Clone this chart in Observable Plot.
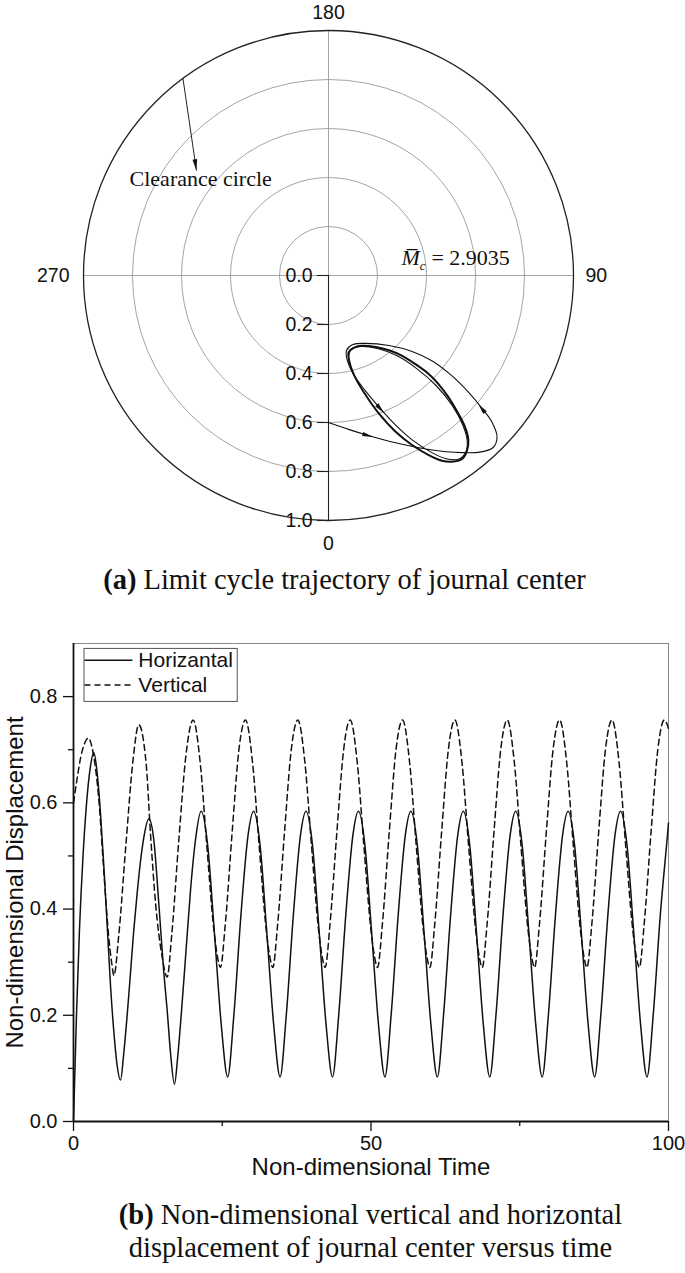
<!DOCTYPE html>
<html>
<head>
<meta charset="utf-8">
<script src="https://cdn.jsdelivr.net/npm/d3@7"></script>
<script src="https://cdn.jsdelivr.net/npm/@observablehq/plot@0.6"></script>
<style>
  body { margin: 0; background: #fff; }
  #wrap { position: relative; width: 685px; height: 1273px; overflow: hidden; background: #fff; }
  .cap { position: absolute; width: 685px; text-align: center; font-family: 'Liberation Serif', 'Times New Roman', serif; font-size: 28.5px; line-height: 33px; color: #111; white-space: nowrap; }
</style>
</head>
<body>
<div id="wrap">
  <div id="polar" style="position:absolute;left:0;top:0"></div>
  <div class="cap" style="left:2px;top:563px"><b>(a)</b> Limit cycle trajectory of journal center</div>
  <div id="series" style="position:absolute;left:0;top:620px"></div>
  <div class="cap" style="left:28px;top:1198px"><b>(b)</b> Non-dimensional vertical and horizontal<br>displacement of journal center versus time</div>
</div>
<script>
const sans = "'Liberation Sans', Arial, Helvetica, sans-serif";
const serif = "'Liberation Serif', 'Times New Roman', Times, serif";

// ---------------- (a) polar plot data ----------------
const ringRadii = [0.2, 0.4, 0.6, 0.8, 1.0];
const radialTicks = [0.0, 0.2, 0.4, 0.6, 0.8, 1.0];
const angleTicks = [0, 90, 180, 270];

// journal-centre trajectory (horizontal, vertical eccentricity components), transient part
const trajH = [0.0, 0.085, 0.159, 0.274, 0.409, 0.544, 0.625, 0.672, 0.688, 0.668, 0.628, 0.571, 0.503, 0.422, 0.341, 0.247, 0.153, 0.099, 0.074, 0.074,
               0.1, 0.15, 0.206, 0.27, 0.34, 0.42, 0.48, 0.53, 0.56, 0.566, 0.548, 0.505, 0.44, 0.36, 0.28, 0.2, 0.13, 0.092, 0.082, 0.086];
const trajV = [0.6, 0.629, 0.652, 0.683, 0.71, 0.723, 0.72, 0.702, 0.66, 0.60, 0.544, 0.476, 0.409, 0.348, 0.31, 0.286, 0.277, 0.282, 0.305, 0.335,
               0.40, 0.47, 0.537, 0.607, 0.67, 0.722, 0.748, 0.75, 0.722, 0.672, 0.61, 0.53, 0.45, 0.38, 0.328, 0.298, 0.29, 0.302, 0.33, 0.36];
// limit cycle
const cycleH = [0.082, 0.088, 0.112, 0.153, 0.206, 0.274, 0.341, 0.409, 0.463, 0.503, 0.544, 0.564, 0.571, 0.557, 0.53, 0.49, 0.449, 0.409, 0.355, 0.301, 0.247, 0.193, 0.139, 0.105];
const cycleV = [0.314, 0.362, 0.422, 0.49, 0.564, 0.638, 0.692, 0.733, 0.756, 0.76, 0.75, 0.719, 0.672, 0.618, 0.564, 0.497, 0.443, 0.402, 0.362, 0.328, 0.305, 0.292, 0.287, 0.294];
// direction arrows on the trajectory
const arrowH = [0.182, 0.612, 0.226];
const arrowV = [0.659, 0.525, 0.561];
const arrowDH = [0.19, -0.094, 0.12];
const arrowDV = [0.054, -0.122, 0.14];
// "Clearance circle" pointer
const clearanceFrom = [-0.594, -0.804];
const clearanceTo = [-0.539, -0.428];
const clearanceText = "Clearance circle";
const mcValue = "2.9035";

// ---------------- (b) time series data ----------------
const timeH = [0, 0.5, 1.0, 1.6, 2.2, 2.8, 3.42, 3.98, 4.54, 5.1, 5.66, 6.22, 6.78, 7.34, 7.9,
  8.46, 9.02, 9.58, 10.13, 10.7, 11.26, 11.82, 12.66, 13.5, 14.34, 15.18, 15.74, 16.3, 16.97,
  17.5, 18.1, 18.9, 19.7, 20.5, 21.45,
  22.55, 23.65, 24.85, 25.91, 26.95, 28.15, 29.35, 30.26,
  31.36, 32.46, 33.66, 34.72, 35.76, 36.96, 38.16, 39.07,
  40.17, 41.27, 42.47, 43.53, 44.57, 45.77, 46.97, 47.88,
  48.98, 50.08, 51.28, 52.34, 53.38, 54.58, 55.78, 56.69,
  57.79, 58.89, 60.09, 61.15, 62.19, 63.39, 64.59, 65.5,
  66.6, 67.7, 68.9, 69.96, 71.0, 72.2, 73.4, 74.31,
  75.41, 76.51, 77.71, 78.77, 79.81, 81.01, 82.21, 83.12,
  84.22, 85.32, 86.52, 87.58, 88.62, 89.82, 91.02, 91.93,
  93.03, 94.13, 95.33, 96.39, 97.43, 98.63, 99.83, 100];
const dispH = [0.0, 0.2, 0.36, 0.5, 0.6, 0.665, 0.695, 0.656, 0.58, 0.48, 0.37, 0.256, 0.169, 0.105, 0.078,
  0.13, 0.2, 0.28, 0.36, 0.43, 0.49, 0.535, 0.57, 0.53, 0.41, 0.28, 0.21, 0.13, 0.07,
  0.12, 0.2, 0.32, 0.44, 0.53, 0.584,
  0.52, 0.36, 0.18, 0.084, 0.2, 0.39, 0.54, 0.584,
  0.52, 0.36, 0.18, 0.084, 0.2, 0.39, 0.54, 0.584,
  0.52, 0.36, 0.18, 0.084, 0.2, 0.39, 0.54, 0.584,
  0.52, 0.36, 0.18, 0.084, 0.2, 0.39, 0.54, 0.584,
  0.52, 0.36, 0.18, 0.084, 0.2, 0.39, 0.54, 0.584,
  0.52, 0.36, 0.18, 0.084, 0.2, 0.39, 0.54, 0.584,
  0.52, 0.36, 0.18, 0.084, 0.2, 0.39, 0.54, 0.584,
  0.52, 0.36, 0.18, 0.084, 0.2, 0.39, 0.54, 0.584,
  0.52, 0.36, 0.18, 0.084, 0.2, 0.39, 0.54, 0.562];
const timeV = [0, 0.6, 1.2, 1.9, 2.5, 3.1, 3.7, 4.3, 5.1, 5.9, 6.4, 6.8,
  7.6, 8.8, 10.0, 10.97, 12.2, 12.95, 13.8, 14.9, 15.74, 16.5, 17.7, 18.9, 20.1,
  21.3, 22.4, 23.6, 24.2, 24.7, 25.5, 26.7, 27.8, 28.9,
  30.1, 31.2, 32.4, 33.0, 33.5, 34.3, 35.5, 36.6, 37.7,
  38.9, 40.0, 41.2, 41.8, 42.3, 43.1, 44.3, 45.4, 46.5,
  47.7, 48.8, 50.0, 50.6, 51.1, 51.9, 53.1, 54.2, 55.3,
  56.5, 57.6, 58.8, 59.4, 59.9, 60.7, 61.9, 63.0, 64.1,
  65.3, 66.4, 67.6, 68.2, 68.7, 69.5, 70.7, 71.8, 72.9,
  74.1, 75.2, 76.4, 77.0, 77.5, 78.3, 79.5, 80.6, 81.7,
  82.9, 84.0, 85.2, 85.8, 86.3, 87.1, 88.3, 89.4, 90.5,
  91.7, 92.8, 94.0, 94.6, 95.1, 95.9, 97.1, 98.2, 99.3, 100];
const dispV = [0.6, 0.645, 0.685, 0.713, 0.722, 0.705, 0.665, 0.6, 0.47, 0.35, 0.3, 0.275,
  0.35, 0.52, 0.68, 0.747, 0.675, 0.54, 0.41, 0.31, 0.272, 0.35, 0.53, 0.69, 0.756,
  0.675, 0.52, 0.36, 0.31, 0.29, 0.37, 0.55, 0.70, 0.756,
  0.675, 0.52, 0.36, 0.31, 0.29, 0.37, 0.55, 0.70, 0.756,
  0.675, 0.52, 0.36, 0.31, 0.29, 0.37, 0.55, 0.70, 0.756,
  0.675, 0.52, 0.36, 0.31, 0.29, 0.37, 0.55, 0.70, 0.756,
  0.675, 0.52, 0.36, 0.31, 0.29, 0.37, 0.55, 0.70, 0.756,
  0.675, 0.52, 0.36, 0.31, 0.29, 0.37, 0.55, 0.70, 0.756,
  0.675, 0.52, 0.36, 0.31, 0.29, 0.37, 0.55, 0.70, 0.756,
  0.675, 0.52, 0.36, 0.31, 0.29, 0.37, 0.55, 0.70, 0.756,
  0.675, 0.52, 0.36, 0.31, 0.29, 0.37, 0.55, 0.70, 0.756, 0.74];
const seriesNames = ["Horizantal", "Vertical"];
const xTicks = [0, 50, 100];
const xMinorTicks = [25, 75];
const yTicks = [0.0, 0.2, 0.4, 0.6, 0.8];
const yMinorTicks = [0.1, 0.3, 0.5, 0.7];
const xTitle = "Non-dimensional Time";
const yTitle = "Non-dimensional Displacement";

// ---------------- build (a) ----------------
const trajData = trajH.map((h, i) => ({h, v: trajV[i]}));
const cycleData = cycleH.map((h, i) => ({h, v: cycleV[i]}));
const arrowData = arrowH.map((h, i) => ({h, v: arrowV[i], dh: arrowDH[i], dv: arrowDV[i]}));
const angleData = angleTicks.map(a => ({a, h: Math.sin(a * Math.PI / 180), v: Math.cos(a * Math.PI / 180)}));
const pointer = [{h1: clearanceFrom[0], v1: clearanceFrom[1], h2: clearanceTo[0], v2: clearanceTo[1]}];

// slim filled arrowhead, tip at origin, pointing up (-y)
const arrowHead = {
  draw(ctx, size) {
    const r = Math.sqrt(size / Math.PI);
    ctx.moveTo(0, 0);
    ctx.lineTo(0.55 * r, 2.7 * r);
    ctx.lineTo(-0.55 * r, 2.7 * r);
    ctx.closePath();
  }
};
const rot = (dh, dv) => Math.atan2(dh, -dv) * 180 / Math.PI;

const polar = Plot.plot({
  width: 685, height: 560,
  marginTop: 30, marginBottom: 40, marginLeft: 83, marginRight: 112,
  x: {domain: [-1, 1], axis: null},
  y: {domain: [1, -1], axis: null},
  r: {type: "linear", domain: [0, 1], range: [0, 245]},
  style: {fontFamily: sans, fontSize: "19px", color: "#111", background: "#fff"},
  marks: [
    Plot.dot(ringRadii.filter(d => d < 1), {x: 0, y: 0, r: d => d, fill: "none", stroke: "#9a9a9a", strokeWidth: 0.9}),
    Plot.ruleY([0], {x1: -1, x2: 1, stroke: "#9a9a9a", strokeWidth: 0.9}),
    Plot.ruleX([0], {y1: -1, y2: 0, stroke: "#9a9a9a", strokeWidth: 0.9}),
    Plot.ruleX([0], {y1: 0, y2: 1, stroke: "#222", strokeWidth: 1.1}),
    Plot.ruleY(radialTicks, {y: d => d, x1: -0.045, x2: 0, stroke: "#222", strokeWidth: 1.1}),
    Plot.dot(ringRadii.filter(d => d === 1), {x: 0, y: 0, r: d => d, fill: "none", stroke: "#222", strokeWidth: 1.3}),
    Plot.text(radialTicks, {x: 0, y: d => d, text: d => d.toFixed(1), textAnchor: "end", dx: -16, fontSize: 19.5, fontFamily: sans, fill: "#111"}),
    Plot.text(angleData.filter(d => d.a === 180), {x: "h", y: "v", text: d => String(d.a), dy: -18, fontSize: 19.5, fontFamily: sans, fill: "#111"}),
    Plot.text(angleData.filter(d => d.a === 0), {x: "h", y: "v", text: d => String(d.a), dy: 23, fontSize: 19.5, fontFamily: sans, fill: "#111"}),
    Plot.text(angleData.filter(d => d.a === 90), {x: "h", y: "v", text: d => String(d.a), textAnchor: "start", dx: 12, fontSize: 19.5, fontFamily: sans, fill: "#111"}),
    Plot.text(angleData.filter(d => d.a === 270), {x: "h", y: "v", text: d => String(d.a), textAnchor: "end", dx: -14, fontSize: 19.5, fontFamily: sans, fill: "#111"}),
    // trajectory
    Plot.line(trajData, {x: "h", y: "v", curve: "catmull-rom", stroke: "#111", strokeWidth: 1.1}),
    Plot.line(cycleData, {x: "h", y: "v", curve: "catmull-rom-closed", stroke: "#111", strokeWidth: 2}),
    Plot.dot(arrowData, {x: "h", y: "v", r: 4, symbol: arrowHead, rotate: d => rot(d.dh, d.dv), fill: "#111", stroke: "none"}),
    // clearance circle pointer
    Plot.link(pointer, {x1: "h1", y1: "v1", x2: "h2", y2: "v2", stroke: "#222", strokeWidth: 1}),
    Plot.dot(pointer, {x: "h2", y: "v2", r: 4.2, symbol: arrowHead, rotate: d => rot(d.h2 - d.h1, d.v2 - d.v1), fill: "#111", stroke: "none"}),
    Plot.text([clearanceText], {x: -0.812, y: -0.393, text: d => d, textAnchor: "start", fontFamily: serif, fontSize: 22, fill: "#111"}),
    // parameter label  M̄c = 2.9035
    Plot.text(["M\u0305"], {x: 0.298, y: -0.07, text: d => d, textAnchor: "start", fontFamily: serif, fontStyle: "italic", fontSize: 22, fill: "#111"}),
    Plot.text(["c"], {x: 0.372, y: -0.07, dy: 7, text: d => d, textAnchor: "start", fontFamily: serif, fontStyle: "italic", fontSize: 13, fill: "#111"}),
    Plot.text([mcValue], {x: 0.42, y: -0.07, text: d => "= " + d, textAnchor: "start", fontFamily: serif, fontSize: 22, fill: "#111"})
  ]
});
document.getElementById("polar").appendChild(polar);

// ---------------- build (b) ----------------
const hData = timeH.map((t, i) => ({t, v: dispH[i]}));
const vData = timeV.map((t, i) => ({t, v: dispV[i]}));
const legendRows = seriesNames.map((name, i) => ({name, y: i === 0 ? 0.8684 : 0.822, dash: i === 0 ? null : "6,4"}));

const series = Plot.plot({
  width: 685, height: 565,
  marginTop: 23, marginBottom: 64, marginLeft: 73, marginRight: 17,
  x: {domain: [0, 100]},
  y: {domain: [0, 0.9]},
  style: {fontFamily: sans, fontSize: "20px", color: "#111", background: "#fff"},
  marks: [
    Plot.frame({stroke: "#8a8a8a", strokeWidth: 1}),
    Plot.line(vData, {x: "t", y: "v", curve: "monotone-x", stroke: "#111", strokeWidth: 1.5, strokeDasharray: "6,4"}),
    Plot.line(hData, {x: "t", y: "v", curve: "monotone-x", stroke: "#111", strokeWidth: 1.5}),
    Plot.axisX(xTicks, {tickSize: 10, tickPadding: 4, tickFormat: d => String(d), label: null, fontSize: 20, stroke: "#111", strokeWidth: 1.3}),
    Plot.axisX(xMinorTicks, {tickSize: 5, tickFormat: () => "", label: null, stroke: "#111", strokeWidth: 1.3}),
    Plot.axisY(yTicks, {tickSize: 10, tickPadding: 6, tickFormat: d => d.toFixed(1), label: null, fontSize: 20, stroke: "#111", strokeWidth: 1.3}),
    Plot.axisY(yMinorTicks, {tickSize: 5, tickFormat: () => "", label: null, stroke: "#111", strokeWidth: 1.3}),
    Plot.ruleX([0], {stroke: "#111", strokeWidth: 1.8}),
    Plot.ruleY([0], {stroke: "#111", strokeWidth: 1.8}),
    // legend
    Plot.rect([0], {x1: 1.85, x2: 27.6, y1: 0.79, y2: 0.8898, fill: "#fff", stroke: "#555", strokeWidth: 1}),
    Plot.link(legendRows.filter(d => !d.dash), {x1: 1.85, x2: 9.9, y1: "y", y2: "y", stroke: "#111", strokeWidth: 1.4}),
    Plot.link(legendRows.filter(d => d.dash), {x1: 1.85, x2: 9.9, y1: "y", y2: "y", stroke: "#111", strokeWidth: 1.4, strokeDasharray: "6,4"}),
    Plot.text(legendRows, {x: 10.9, y: "y", text: "name", textAnchor: "start", fontSize: 21, fontFamily: sans, fill: "#111"}),
    // axis titles
    Plot.text([xTitle], {frameAnchor: "bottom", dy: 46, text: d => d, textAnchor: "middle", lineAnchor: "middle", fontSize: 24, fontFamily: sans, fill: "#111"}),
    Plot.text([yTitle], {frameAnchor: "left", dx: -58, rotate: -90, text: d => d, textAnchor: "middle", lineAnchor: "middle", fontSize: 24, fontFamily: sans, fill: "#111"})
  ]
});
document.getElementById("series").appendChild(series);
</script>
</body>
</html>
